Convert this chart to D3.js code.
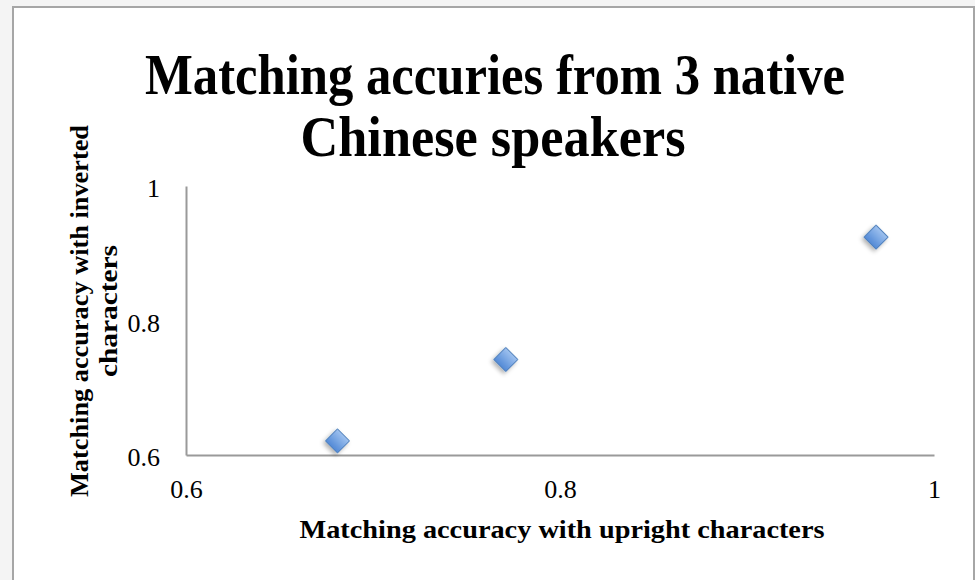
<!DOCTYPE html>
<html>
<head>
<meta charset="utf-8">
<script src="https://cdn.jsdelivr.net/npm/d3@7"></script>
<style>
  html, body { margin: 0; padding: 0; background: #fff; }
  svg { display: block; }
</style>
</head>
<body>
<svg id="chart" width="975" height="580"></svg>
<script>
// ---- data ----
const titleLines = ["Matching accuries from 3 native", "Chinese speakers"];
const xTitle = "Matching accuracy with upright characters";
const yTitleLines = ["Matching accuracy with inverted", "characters"];
const uprightAccuracy = [0.681, 0.771, 0.969];
const invertedAccuracy = [0.621, 0.742, 0.924];
const xTicks = [0.6, 0.8, 1];
const yTicks = [0.6, 0.8, 1];
const xDomain = [0.6, 1];
const yDomain = [0.6, 1];

const points = uprightAccuracy.map((u, i) => ({ x: u, y: invertedAccuracy[i] }));

const svg = d3.select("#chart");
const serif = "'Liberation Serif', 'DejaVu Serif', serif";

// outer frame
svg.append("rect").attr("x", 0).attr("y", 0).attr("width", 975).attr("height", 580).attr("fill", "#f4f4f4");
svg.append("rect").attr("x", 13).attr("y", 7).attr("width", 961).attr("height", 580)
  .attr("fill", "#fff").attr("stroke", "#a6a6a6").attr("stroke-width", 2);

const defs = svg.append("defs");
const grad = defs.append("linearGradient").attr("id", "mk").attr("x1", 0).attr("y1", 0).attr("x2", 0).attr("y2", 1);
grad.append("stop").attr("offset", "0%").attr("stop-color", "#9fc2ef");
grad.append("stop").attr("offset", "100%").attr("stop-color", "#5289d6");
const f = defs.append("filter").attr("id", "sh").attr("x", "-50%").attr("y", "-50%").attr("width", "200%").attr("height", "200%");
f.append("feDropShadow").attr("dx", 0).attr("dy", 3).attr("stdDeviation", 2).attr("flood-color", "#000").attr("flood-opacity", 0.3);

const x = d3.scaleLinear().domain(xDomain).range([186, 934]);
const y = d3.scaleLinear().domain(yDomain).range([455, 186]);

// axes
const xAxis = svg.append("g").attr("transform", `translate(0,${y(yDomain[0])})`)
  .call(d3.axisBottom(x).tickValues(xTicks).tickSize(0).tickPadding(33).tickFormat(d3.format("")));
const yAxis = svg.append("g").attr("transform", `translate(${x(xDomain[0])},0)`)
  .call(d3.axisLeft(y).tickValues(yTicks).tickSize(0).tickPadding(26).tickFormat(d3.format("")));
[xAxis, yAxis].forEach(a => {
  a.select(".domain").attr("stroke", "#9a9a9a").attr("stroke-width", 2);
  a.selectAll("text").attr("font-family", serif).attr("font-size", 26).attr("fill", "#000");
});
xAxis.selectAll("text").attr("dy", "0.4em");
yAxis.selectAll("text").attr("dy", "0.42em");

// title
svg.append("text").attr("x", 495).attr("y", 94).attr("text-anchor", "middle")
  .attr("font-family", serif).attr("font-weight", "bold").attr("font-size", 58)
  .attr("textLength", 700).attr("lengthAdjust", "spacingAndGlyphs").text(titleLines[0]);
svg.append("text").attr("x", 493).attr("y", 156).attr("text-anchor", "middle")
  .attr("font-family", serif).attr("font-weight", "bold").attr("font-size", 58)
  .attr("textLength", 385).attr("lengthAdjust", "spacingAndGlyphs").text(titleLines[1]);

// axis titles
svg.append("text").attr("x", 562).attr("y", 538).attr("text-anchor", "middle")
  .attr("font-family", serif).attr("font-weight", "bold").attr("font-size", 25)
  .attr("textLength", 525).attr("lengthAdjust", "spacingAndGlyphs").text(xTitle);
const yt = svg.append("g").attr("transform", "translate(0,311) rotate(-90)");
yt.append("text").attr("x", 0).attr("y", 88).attr("text-anchor", "middle")
  .attr("font-family", serif).attr("font-weight", "bold").attr("font-size", 25)
  .attr("textLength", 372).attr("lengthAdjust", "spacingAndGlyphs").text(yTitleLines[0]);
yt.append("text").attr("x", 0).attr("y", 117).attr("text-anchor", "middle")
  .attr("font-family", serif).attr("font-weight", "bold").attr("font-size", 25)
  .attr("textLength", 132).attr("lengthAdjust", "spacingAndGlyphs").text(yTitleLines[1]);

// markers
const sym = d3.symbol().type(d3.symbolSquare).size(290);
svg.append("g").selectAll("path").data(points).join("path")
  .attr("d", sym)
  .attr("transform", d => `translate(${x(d.x)},${y(d.y)}) rotate(45)`)
  .attr("fill", "url(#mk)").attr("stroke", "#4f81bd").attr("stroke-width", 1)
  .attr("filter", "url(#sh)");
</script>
</body>
</html>
